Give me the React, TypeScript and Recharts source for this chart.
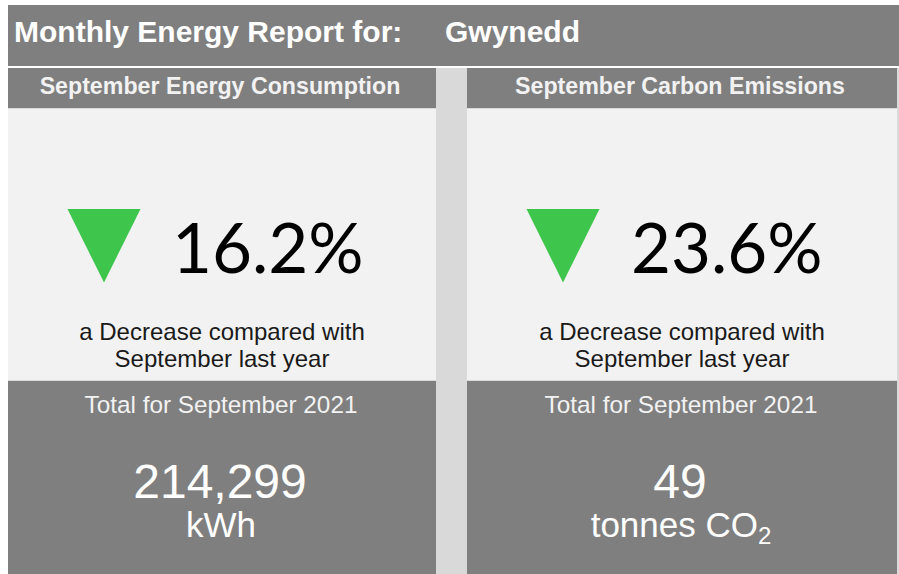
import React from 'react';
import { Surface, Rectangle, Polygon, Text } from 'recharts';

// ---- data ----
const reportTitle = 'Monthly Energy Report for:';
const region = 'Gwynedd';
const month = 'September';
const year = 2021;
const panelTitles = ['September Energy Consumption', 'September Carbon Emissions'];
const changePct = [16.2, 23.6];
const changeDirection = ['Decrease', 'Decrease'];
const totals = [214299, 49];
const unitMain = ['kWh', 'tonnes CO'];
const unitSub = ['', '2'];

// ---- style ----
const W = 899;
const H = 574;
const DARK = '#7f7f7f';
const LIGHT = '#f2f2f2';
const DIV = '#d9d9d9';
const GREEN = '#3ec54b';
const ARIAL = '"Liberation Sans", Arial, sans-serif';
const CAL = 'Lato, "Open Sans", sans-serif';

const panels = [
  { x: 8, w: 428 },
  { x: 467, w: 430 },
];

export default function App() {
  return (
    <div style={{ position: 'absolute', left: 0, top: 0, width: W, height: H, background: '#fff' }}>
      <Surface width={W} height={H} viewBox={{ x: 0, y: 0, width: W, height: H }}>
        <Rectangle x={8} y={5} width={W - 8} height={61} fill={DARK} />
        <Rectangle x={8} y={68} width={W - 8} height={H - 68} fill={DIV} />
        <Text x={14} y={42} fontFamily={ARIAL} fontWeight="bold" fontSize={30} fill="#ffffff">
          {reportTitle}
        </Text>
        <Text x={445} y={42} fontFamily={ARIAL} fontWeight="bold" fontSize={30} fill="#ffffff">
          {region}
        </Text>
        {panels.map((p, i) => {
          const cx = p.x + p.w / 2;
          const tx = p.x + 59.5;
          const pts = [
            { x: tx, y: 209 },
            { x: tx + 73, y: 209 },
            { x: tx + 36.5, y: 282.5 },
          ];
          return (
            <g key={i}>
              <Rectangle x={p.x} y={68} width={p.w} height={40} fill={DARK} />
              <Rectangle x={p.x} y={108} width={p.w} height={1} fill={DIV} />
              <Rectangle x={p.x} y={109} width={p.w} height={271} fill={LIGHT} />
              <Rectangle x={p.x} y={380} width={p.w} height={1} fill={DIV} />
              <Rectangle x={p.x} y={381} width={p.w} height={H - 381} fill={DARK} />
              <Text x={cx - 2} y={94} textAnchor="middle" fontFamily={ARIAL} fontWeight="bold" fontSize={23.2} fill={LIGHT}>
                {panelTitles[i]}
              </Text>
              <Polygon points={pts} fill={GREEN} stroke="none" />
              <Text x={p.x + 164} y={273} fontFamily={CAL} fontSize={69} fill="#000000">
                {`${changePct[i].toFixed(1)}%`}
              </Text>
              <Text x={cx} y={340} textAnchor="middle" fontFamily={ARIAL} fontSize={24} fill="#1a1a1a">
                {`a ${changeDirection[i]} compared with`}
              </Text>
              <Text x={cx} y={367} textAnchor="middle" fontFamily={ARIAL} fontSize={24} fill="#1a1a1a">
                {`${month} last year`}
              </Text>
              <Text x={cx - 1} y={413} textAnchor="middle" fontFamily={ARIAL} fontSize={24.3} fill={LIGHT}>
                {`Total for ${month} ${year}`}
              </Text>
              <Text x={cx - 2} y={498} textAnchor="middle" fontFamily={ARIAL} fontSize={48} fill="#ffffff">
                {totals[i].toLocaleString('en-GB')}
              </Text>
              <text x={cx - 1} y={537} textAnchor="middle" fontFamily={ARIAL} fontSize={35} fill="#ffffff">
                {unitMain[i]}
                {unitSub[i] ? (
                  <tspan fontSize={24} dy={7}>
                    {unitSub[i]}
                  </tspan>
                ) : null}
              </text>
            </g>
          );
        })}
      </Surface>
    </div>
  );
}
